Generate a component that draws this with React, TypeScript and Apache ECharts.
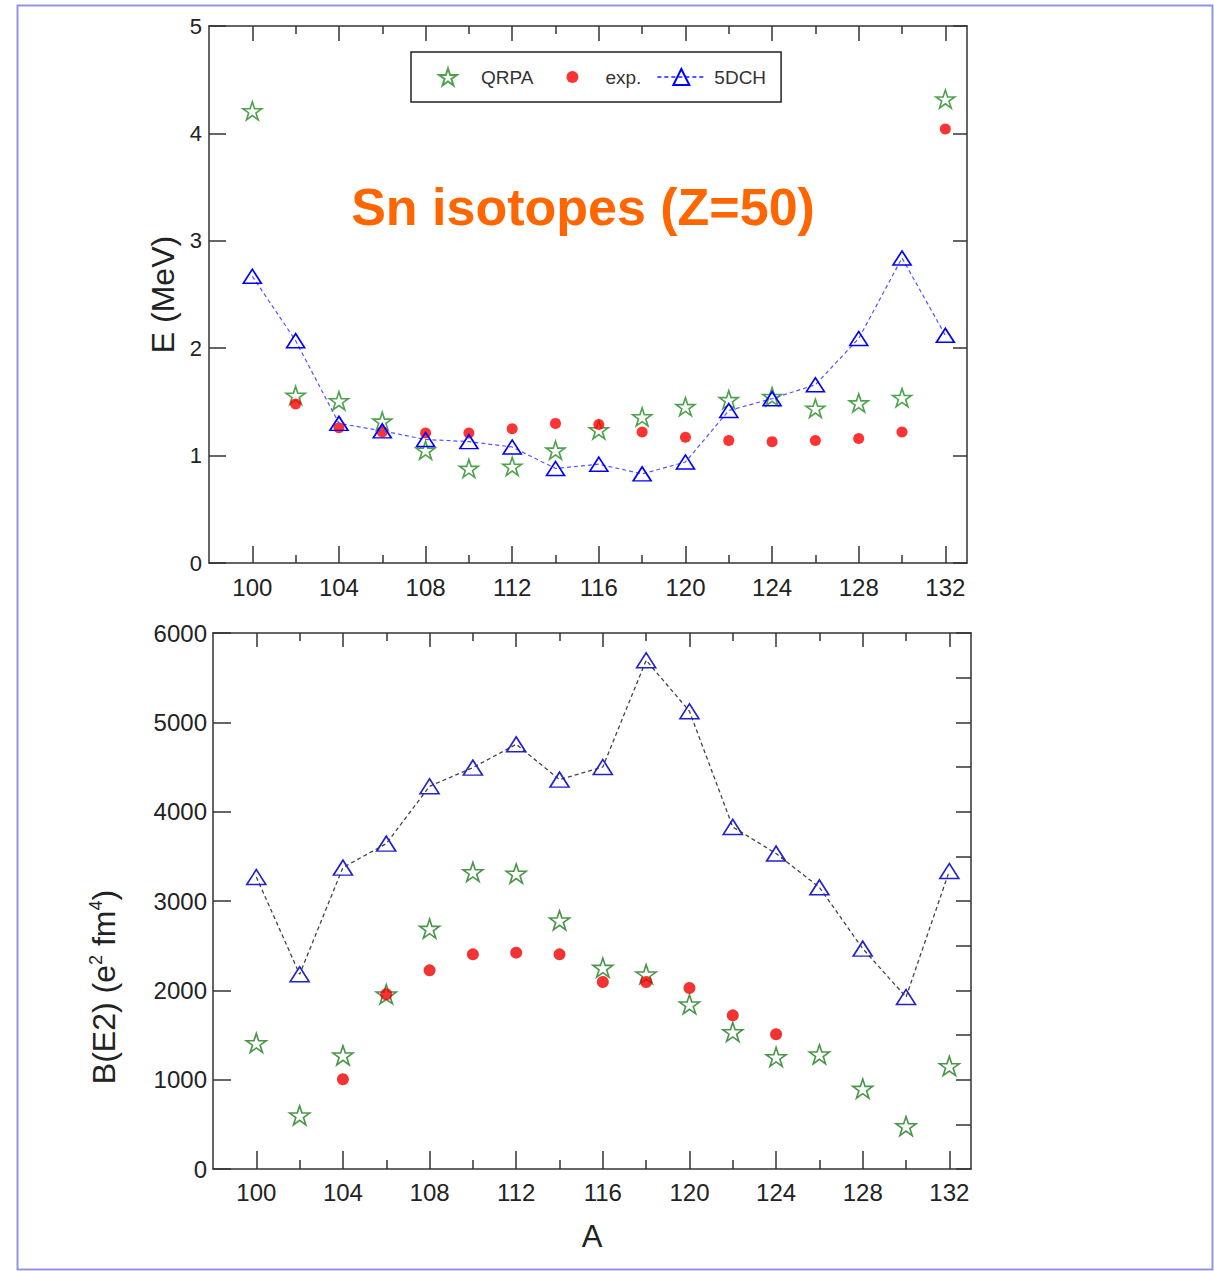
import React, { useEffect, useRef } from 'react';
import * as echarts from 'echarts';

// ---------- data ----------
const massNumbers = [100, 102, 104, 106, 108, 110, 112, 114, 116, 118, 120, 122, 124, 126, 128, 130, 132];

// 2+ energies (MeV)
const energyQRPA = [4.21, 1.56, 1.51, 1.32, 1.05, 0.88, 0.9, 1.05, 1.24, 1.36, 1.455, 1.52, 1.55, 1.44, 1.49, 1.54, 4.32];
const energyExp = [null, 1.48, 1.26, 1.22, 1.21, 1.21, 1.25, 1.3, 1.29, 1.22, 1.17, 1.14, 1.13, 1.14, 1.16, 1.22, 4.04];
const energy5DCH = [2.67, 2.07, 1.3, 1.23, 1.15, 1.13, 1.08, 0.88, 0.92, 0.83, 0.94, 1.42, 1.53, 1.66, 2.09, 2.84, 2.12];

// B(E2) (e^2 fm^4)
const be2QRPA = [1411, 601, 1273, 1956, 2691, 3325, 3307, 2784, 2254, 2180, 1844, 1534, 1254, 1284, 900, 481, 1153];
const be2Exp = [null, null, 1004, 1956, 2224, 2403, 2422, 2403, 2094, 2094, 2026, 1720, 1508, null, null, null, null];
const be25DCH = [3269, 2180, 3374, 3642, 4284, 4493, 4754, 4359, 4500, 5695, 5124, 3829, 3531, 3153, 2467, 1925, 3336];

// tick values
const majorTicksA = [100, 104, 108, 112, 116, 120, 124, 128, 132];
const minorTicksA = [102, 106, 110, 114, 118, 122, 126, 130];

const FONT = '"Liberation Sans", Arial, Helvetica, sans-serif';

const STAR_BODY = 'M50,0L61.23,34.55L97.55,34.55L68.16,55.9L79.39,90.45L50,69.1L20.61,90.45L31.84,55.9L2.45,34.55L38.77,34.55Z';
const STAR = 'path://' + STAR_BODY;
// padded versions so the legend icon fills the whole 48x20 icon box and stays centred
const STAR_LEGEND = 'path://M-77.7,-8M177.7,98.45M50,0' + STAR_BODY.slice('M50,0'.length);
const DOT_LEGEND = 'path://M-14,0M34,20M4,10A6,6,0,1,1,16,10A6,6,0,1,1,4,10Z';

function pairs(xs: number[], ys: (number | null)[]) {
  const out: number[][] = [];
  xs.forEach((x, i) => {
    const y = ys[i];
    if (y !== null && y !== undefined) out.push([x, y]);
  });
  return out;
}

const AXIS_COLOR = '#333';

function xAxisDef(gridIndex: number, position: 'top' | 'bottom', ticks: number[], len: number, opts: any = {}) {
  return {
    type: 'value',
    gridIndex,
    position,
    min: 98,
    max: 133,
    splitLine: { show: false },
    axisLine: { show: opts.line !== false, onZero: false, lineStyle: { color: AXIS_COLOR, width: 1.5 } },
    axisTick: { show: true, inside: true, length: len, customValues: ticks, lineStyle: { color: AXIS_COLOR, width: 1.5 } },
    axisLabel: opts.labels
      ? { show: true, customValues: ticks, fontSize: 24, margin: opts.margin ?? 12, color: '#222', fontFamily: FONT }
      : { show: false },
    ...(opts.extra || {}),
  };
}

export default function App() {
  const ref = useRef<HTMLDivElement>(null);

  useEffect(() => {
    if (!ref.current) return;
    const chart = echarts.init(ref.current, null, { renderer: 'svg' });

    const option: any = {
      animation: false,
      backgroundColor: '#fff',
      textStyle: { fontFamily: FONT },
      grid: [
        { left: 209, top: 26, width: 758, height: 537, containLabel: false },
        { left: 213, top: 633, width: 758, height: 536, containLabel: false },
      ],
      legend: {
        data: [
          { name: 'QRPA', icon: STAR_LEGEND },
          { name: 'exp.', icon: DOT_LEGEND },
          { name: '5DCH' },
        ],
        left: 411,
        top: 52,
        orient: 'horizontal',
        itemWidth: 48,
        itemHeight: 20,
        itemGap: 15,
        padding: [14, 15, 14, 12],
        borderColor: '#222',
        borderWidth: 1.5,
        backgroundColor: '#fff',
        selectedMode: false,
        textStyle: { fontSize: 19, color: '#333', fontFamily: FONT, padding: [0, 0, 0, 4] },
      },
      xAxis: [
        xAxisDef(0, 'bottom', majorTicksA, 17, { labels: true, margin: 12 }),
        xAxisDef(0, 'bottom', minorTicksA, 8, { line: false }),
        xAxisDef(0, 'top', majorTicksA, 15),
        xAxisDef(0, 'top', minorTicksA, 8, { line: false }),
        xAxisDef(1, 'bottom', majorTicksA, 18, {
          labels: true,
          margin: 11,
          extra: {
            name: 'A',
            nameLocation: 'middle',
            nameGap: 52,
            nameTextStyle: { fontSize: 31, color: '#222', fontFamily: FONT },
          },
        }),
        xAxisDef(1, 'bottom', minorTicksA, 9, { line: false }),
        xAxisDef(1, 'top', majorTicksA, 14),
        xAxisDef(1, 'top', minorTicksA, 8, { line: false }),
      ],
      yAxis: [
        {
          type: 'value',
          gridIndex: 0,
          position: 'left',
          min: 0,
          max: 5,
          interval: 1,
          name: 'E (MeV)',
          nameLocation: 'middle',
          nameGap: 27,
          nameTextStyle: { fontSize: 32, color: '#222', fontFamily: FONT },
          splitLine: { show: false },
          axisLine: { show: true, onZero: false, lineStyle: { color: AXIS_COLOR, width: 1.5 } },
          axisTick: { inside: true, length: 17, lineStyle: { color: AXIS_COLOR, width: 1.5 } },
          axisLabel: { fontSize: 22, margin: 7, color: '#222', fontFamily: FONT },
        },
        {
          type: 'value',
          gridIndex: 0,
          position: 'right',
          min: 0,
          max: 5,
          interval: 1,
          splitLine: { show: false },
          axisLine: { show: true, onZero: false, lineStyle: { color: AXIS_COLOR, width: 1.5 } },
          axisTick: { inside: true, length: 14, lineStyle: { color: AXIS_COLOR, width: 1.5 } },
          axisLabel: { show: false },
        },
        {
          type: 'value',
          gridIndex: 1,
          position: 'left',
          min: 0,
          max: 6000,
          interval: 1000,
          splitLine: { show: false },
          axisLine: { show: true, onZero: false, lineStyle: { color: AXIS_COLOR, width: 1.5 } },
          axisTick: { inside: true, length: 18, lineStyle: { color: AXIS_COLOR, width: 1.5 } },
          axisLabel: {
            fontSize: 24,
            margin: 6,
            color: '#222',
            fontFamily: FONT,
            formatter: (v: number) => String(v),
          },
        },
        {
          type: 'value',
          gridIndex: 1,
          position: 'right',
          min: 0,
          max: 6000,
          interval: 500,
          splitLine: { show: false },
          axisLine: { show: true, onZero: false, lineStyle: { color: AXIS_COLOR, width: 1.5 } },
          axisTick: { inside: true, length: 15, lineStyle: { color: AXIS_COLOR, width: 1.5 } },
          axisLabel: { show: false },
        },
      ],
      series: [
        {
          name: 'QRPA',
          type: 'scatter',
          xAxisIndex: 0,
          yAxisIndex: 0,
          symbol: STAR,
          symbolSize: [19, 18],
          itemStyle: { color: 'transparent', borderColor: '#228b22', borderWidth: 1.6 },
          data: pairs(massNumbers, energyQRPA),
          z: 2,
        },
        {
          name: 'exp.',
          type: 'scatter',
          xAxisIndex: 0,
          yAxisIndex: 0,
          symbol: 'circle',
          symbolSize: 11,
          itemStyle: { color: '#ff0000' },
          data: pairs(massNumbers, energyExp),
          z: 3,
        },
        {
          name: '5DCH',
          type: 'line',
          xAxisIndex: 0,
          yAxisIndex: 0,
          symbol: 'triangle',
          symbolSize: [18, 14],
          showAllSymbol: true,
          itemStyle: { color: 'transparent', borderColor: '#0000ff', borderWidth: 1.6 },
          lineStyle: { color: '#5555ff', width: 1.2, type: [4, 3] },
          data: pairs(massNumbers, energy5DCH),
          z: 4,
        },
        {
          name: 'QRPA B(E2)',
          type: 'scatter',
          xAxisIndex: 4,
          yAxisIndex: 2,
          symbol: STAR,
          symbolSize: [20, 19],
          itemStyle: { color: 'transparent', borderColor: '#1e7a1e', borderWidth: 1.6 },
          data: pairs(massNumbers, be2QRPA),
          z: 2,
        },
        {
          name: 'exp. B(E2)',
          type: 'scatter',
          xAxisIndex: 4,
          yAxisIndex: 2,
          symbol: 'circle',
          symbolSize: 12,
          itemStyle: { color: '#ee0000' },
          data: pairs(massNumbers, be2Exp),
          z: 3,
        },
        {
          name: '5DCH B(E2)',
          type: 'line',
          xAxisIndex: 4,
          yAxisIndex: 2,
          symbol: 'triangle',
          symbolSize: [19, 15],
          showAllSymbol: true,
          itemStyle: { color: 'transparent', borderColor: '#2222cc', borderWidth: 1.6 },
          lineStyle: { color: '#444', width: 1.3, type: [4, 3] },
          data: pairs(massNumbers, be25DCH),
          z: 4,
        },
      ],
      graphic: [
        {
          type: 'rect',
          silent: true,
          shape: { x: 17.5, y: 5.5, width: 1195, height: 1264 },
          style: { fill: 'none', stroke: '#9494e4', lineWidth: 2 },
          z: 0,
        },
        {
          type: 'text',
          silent: true,
          x: 583,
          y: 207,
          style: {
            text: 'Sn isotopes (Z=50)',
            fill: '#ff6600',
            font: `bold 52px ${FONT}`,
            align: 'center',
            verticalAlign: 'middle',
          },
          z: 10,
        },
        {
          type: 'text',
          silent: true,
          x: 104,
          y: 987,
          rotation: Math.PI / 2,
          style: {
            text: 'B(E2) (e{sup|2} fm{sup|4})',
            fill: '#222',
            font: `32px ${FONT}`,
            align: 'center',
            verticalAlign: 'middle',
            rich: {
              sup: { fontSize: 18, fontFamily: FONT, fill: '#222', verticalAlign: 'top', lineHeight: 34 },
            },
          },
          z: 10,
        },
      ],
    };

    chart.setOption(option);
    return () => chart.dispose();
  }, []);

  return (
    <div
      ref={ref}
      style={{ position: 'absolute', left: 0, top: 0, width: 1214, height: 1271, background: '#fff' }}
    />
  );
}
